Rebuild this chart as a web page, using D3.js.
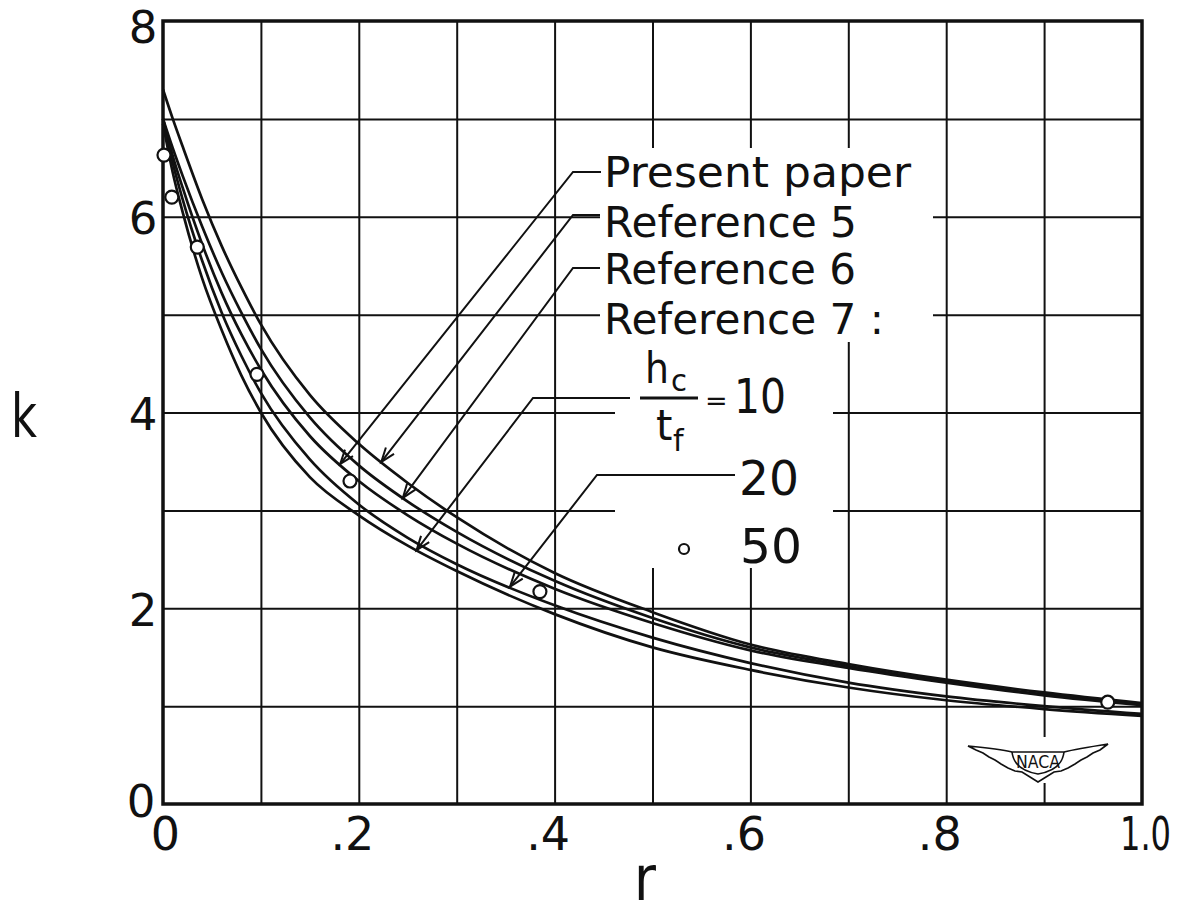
<!DOCTYPE html>
<html>
<head>
<meta charset="utf-8">
<script src="https://cdn.jsdelivr.net/npm/d3@7"></script>
<style>
  html, body { margin: 0; padding: 0; background: #fff; }
  svg text { font-family: "DejaVu Sans", "Noto Sans", sans-serif; fill: #111; }
</style>
</head>
<body>
<svg id="chart" width="1179" height="924"></svg>
<script>
// ---------------- data ----------------
const rGrid = [0, 0.01, 0.02, 0.04, 0.06, 0.08, 0.1, 0.15, 0.2, 0.25, 0.3, 0.4, 0.5, 0.6, 0.7, 0.8, 0.9, 1.0];
const kRef5    = [7.30, 7.00, 6.72, 6.18, 5.70, 5.28, 4.90, 4.18, 3.68, 3.28, 2.93, 2.36, 1.96, 1.63, 1.43, 1.27, 1.14, 1.03];
const kRef6    = [7.00, 6.70, 6.42, 5.90, 5.43, 5.02, 4.65, 3.95, 3.46, 3.09, 2.78, 2.28, 1.90, 1.60, 1.41, 1.25, 1.12, 1.02];
const kPresent = [7.00, 6.62, 6.30, 5.72, 5.22, 4.80, 4.44, 3.76, 3.30, 2.95, 2.66, 2.20, 1.85, 1.57, 1.39, 1.24, 1.11, 1.01];
const kRef7_20 = [7.00, 6.55, 6.18, 5.55, 5.02, 4.58, 4.20, 3.52, 3.06, 2.72, 2.45, 2.03, 1.70, 1.44, 1.24, 1.10, 1.00, 0.92];
const kRef7_10 = [6.95, 6.45, 6.05, 5.37, 4.84, 4.38, 4.00, 3.34, 2.95, 2.64, 2.38, 1.94, 1.60, 1.37, 1.19, 1.06, 0.97, 0.90];
const r50 = [0.001, 0.009, 0.035, 0.096, 0.191, 0.385, 0.965];
const k50 = [6.63, 6.20, 5.69, 4.39, 3.30, 2.17, 1.04];
const xTickValues = [0, 0.2, 0.4, 0.6, 0.8, 1.0];
const xTickLabels = ["0", ".2", ".4", ".6", ".8", "1.0"];
const yTickValues = [0, 2, 4, 6, 8];
const yTickLabels = ["0", "2", "4", "6", "8"];
const legendLabels = ["Present paper", "Reference 5", "Reference 6", "Reference 7 :"];
// r at which each leader arrow touches its curve
const arrowR = { present: 0.181, ref5: 0.223, ref6: 0.245, ref10: 0.259, ref20: 0.3545 };

// ---------------- setup ----------------
const svg = d3.select("#chart");
const x = d3.scaleLinear().domain([0, 1]).range([163, 1142]);
const y = d3.scaleLinear().domain([0, 8]).range([804, 21]);
const INK = "#111";

// grid lines via axes
const gGridX = svg.append("g").attr("transform", `translate(0,${y(0)})`)
  .call(d3.axisBottom(x).tickValues(d3.range(1, 10).map(d => d / 10)).tickSize(-(y(0) - y(8))).tickFormat(""));
const gGridY = svg.append("g").attr("transform", `translate(${x(0)},0)`)
  .call(d3.axisLeft(y).tickValues(d3.range(1, 8)).tickSize(-(x(1) - x(0))).tickFormat(""));
[gGridX, gGridY].forEach(g => {
  g.select(".domain").remove();
  g.selectAll(".tick line").attr("stroke", INK).attr("stroke-width", 2);
});

// knockouts where the lettering interrupts the grid
const knock = svg.append("g");
[[600, 148, 933, 342], [615, 342, 833, 568], [968, 737, 1108, 783]].forEach(([x0, y0, x1, y1]) => {
  knock.append("rect").attr("x", x0).attr("y", y0).attr("width", x1 - x0).attr("height", y1 - y0).attr("fill", "#fff");
});

// curves
const series = [kRef5, kRef6, kPresent, kRef7_20, kRef7_10];
const line = d3.line().x(d => x(d[0])).y(d => y(d[1])).curve(d3.curveMonotoneX);
svg.append("g").selectAll("path").data(series).join("path")
  .attr("d", ks => line(rGrid.map((r, i) => [r, ks[i]])))
  .attr("fill", "none").attr("stroke", INK).attr("stroke-width", 2.7);

// frame
svg.append("rect").attr("x", x(0)).attr("y", y(8)).attr("width", x(1) - x(0)).attr("height", y(0) - y(8))
  .attr("fill", "none").attr("stroke", INK).attr("stroke-width", 3.5);

// circles hc/tf = 50
svg.append("g").selectAll("circle").data(r50.map((r, i) => [r, k50[i]])).join("circle")
  .attr("cx", d => x(d[0])).attr("cy", d => y(d[1])).attr("r", 6.5)
  .attr("fill", "#fff").attr("stroke", INK).attr("stroke-width", 2.2);

// tick labels
const xa = svg.append("g").attr("transform", `translate(0,${y(0)})`)
  .call(d3.axisBottom(x).tickValues(xTickValues).tickSize(0).tickPadding(0).tickFormat((d, i) => xTickLabels[i]));
xa.select(".domain").remove();
xa.selectAll("text").attr("font-size", 46).attr("dy", null).attr("y", 46)
  .attr("text-anchor", (d, i) => i === 0 ? "middle" : (i === 5 ? "middle" : "end"))
  .attr("dx", (d, i) => i === 0 ? 2 : (i === 5 ? 0 : 15))
  .attr("transform", (d, i) => i === 5 ? "translate(3,0) scale(0.7,1)" : null)
  .style("font-family", '"DejaVu Sans", sans-serif').attr("fill", INK);

const ya = svg.append("g").attr("transform", `translate(143,0)`)
  .call(d3.axisLeft(y).tickValues(yTickValues).tickSize(0).tickPadding(0).tickFormat((d, i) => yTickLabels[i]));
ya.select(".domain").remove();
ya.selectAll("text").attr("font-size", 45).attr("x", (d) => d === 0 ? -2 : 0).attr("dy", null)
  .attr("y", d => d === 8 ? 21 : (d === 0 ? 12 : 17))
  .attr("text-anchor", "middle").style("font-family", '"DejaVu Sans", sans-serif').attr("fill", INK);

// axis titles
svg.append("text").attr("x", 24).attr("y", 437).attr("font-size", 60).attr("text-anchor", "middle")
  .attr("textLength", 26).attr("lengthAdjust", "spacingAndGlyphs").text("k");
svg.append("text").attr("x", 645).attr("y", 900).attr("font-size", 62).attr("text-anchor", "middle")
  .attr("textLength", 22).attr("lengthAdjust", "spacingAndGlyphs").text("r");

// interpolate curve value for arrow tips
function kAt(ks, r) {
  const i = d3.bisectRight(rGrid, r) - 1;
  const t = (r - rGrid[i]) / (rGrid[i + 1] - rGrid[i]);
  return ks[i] + t * (ks[i + 1] - ks[i]);
}
const lead = svg.append("g").attr("stroke", INK).attr("stroke-width", 2).attr("fill", "none");
function leader(hx0, hx1, hy, ks, r) {
  const tx = x(r), ty = y(kAt(ks, r));
  lead.append("path").attr("d", `M${hx1},${hy}L${hx0},${hy}L${tx},${ty}`);
  const ang = Math.atan2(ty - hy, tx - hx0);
  const L = 15, a = 0.35;
  const p1 = [tx - L * Math.cos(ang - a), ty - L * Math.sin(ang - a)];
  const p2 = [tx - L * Math.cos(ang + a), ty - L * Math.sin(ang + a)];
  lead.append("path").attr("d", `M${p1[0]},${p1[1]}L${tx},${ty}L${p2[0]},${p2[1]}`);
}
leader(573, 601, 172, kPresent, arrowR.present);
leader(573, 600, 215, kRef5, arrowR.ref5);
leader(573, 600, 268, kRef6, arrowR.ref6);
leader(533, 630, 398, kRef7_10, arrowR.ref10);
leader(597, 735, 475, kRef7_20, arrowR.ref20);

// legend text
const lg = svg.append("g").attr("font-size", 43);
const legY = [187, 236.5, 283.5, 333.5];
const legW = [307, 253, 252, 280];
legendLabels.forEach((t, i) => {
  lg.append("text").attr("x", 604).attr("y", legY[i]).attr("textLength", legW[i])
    .attr("lengthAdjust", "spacingAndGlyphs").text(t);
});
// fraction hc/tf = 10
const fr = svg.append("g");
fr.append("text").attr("x", 645).attr("y", 383).attr("font-size", 42).attr("textLength", 24).attr("lengthAdjust", "spacingAndGlyphs").text("h");
fr.append("text").attr("x", 671).attr("y", 391).attr("font-size", 30).attr("textLength", 16).attr("lengthAdjust", "spacingAndGlyphs").text("c");
fr.append("line").attr("x1", 640).attr("x2", 698).attr("y1", 398).attr("y2", 398).attr("stroke", INK).attr("stroke-width", 3);
fr.append("text").attr("x", 656).attr("y", 440).attr("font-size", 42).text("t");
fr.append("text").attr("x", 673).attr("y", 451).attr("font-size", 30).text("f");
fr.append("text").attr("x", 705).attr("y", 410).attr("font-size", 27).text("=");
fr.append("text").attr("x", 734).attr("y", 413).attr("font-size", 48).attr("textLength", 52).attr("lengthAdjust", "spacingAndGlyphs").text("10");
svg.append("text").attr("x", 739).attr("y", 495).attr("font-size", 48).attr("textLength", 60).attr("lengthAdjust", "spacingAndGlyphs").text("20");
svg.append("circle").attr("cx", 684).attr("cy", 549).attr("r", 5).attr("fill", "#fff").attr("stroke", INK).attr("stroke-width", 2.2);
svg.append("text").attr("x", 740).attr("y", 563).attr("font-size", 48).attr("textLength", 62).attr("lengthAdjust", "spacingAndGlyphs").text("50");

// NACA emblem
const logo = svg.append("g").attr("stroke", INK).attr("stroke-width", 1.6).attr("fill", "#fff");
const cx = 1038;
logo.append("path").attr("d",
  `M968,746 Q1000,749 1012,752 L1064,752 Q1076,749 1108,744
   L1100,750 L1093,753 L1087,757 L1081,760 L1075,764 L1068,768 L1061,771 L1054,772 L1046,777 L${cx},782
   L1030,777 L1022,772 L1015,771 L1008,768 L1001,764 L995,760 L989,757 L983,753 L976,750 Z`);
logo.append("path").attr("d", `M1012,752 Q1014,770 ${cx},774 Q1062,770 1064,752`).attr("fill", "none");
svg.append("text").attr("x", cx).attr("y", 768).attr("font-size", 17).attr("text-anchor", "middle")
  .attr("textLength", 44).attr("lengthAdjust", "spacingAndGlyphs").text("NACA");
</script>
</body>
</html>
